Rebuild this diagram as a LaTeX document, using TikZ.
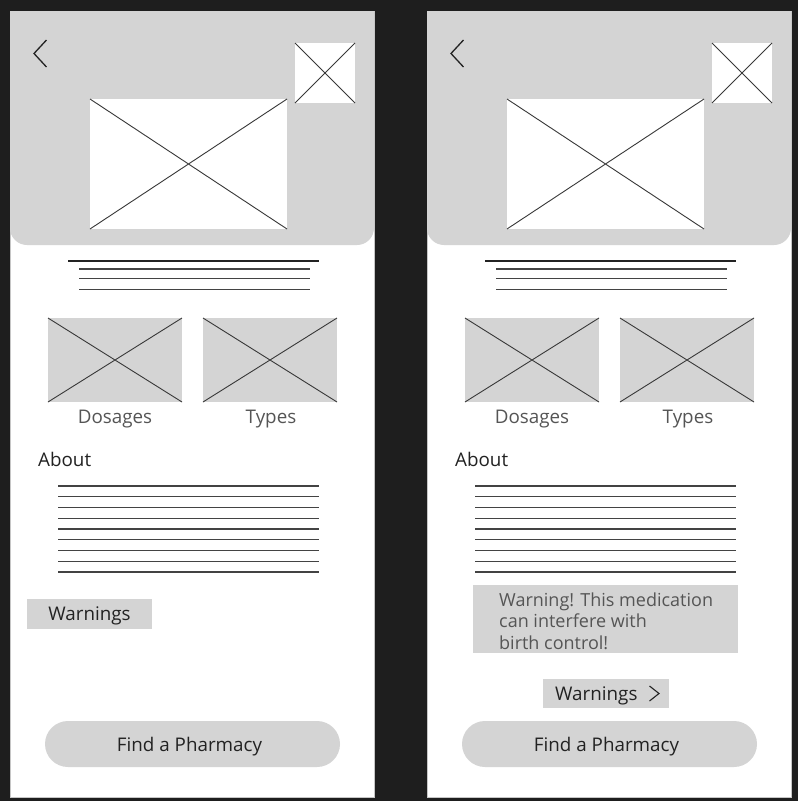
\documentclass[tikz,border=0pt]{standalone}
\usepackage{fontspec}
\setmainfont{Open Sans}
\usepackage{tikz}

\definecolor{board}{HTML}{1E1E1E}
\definecolor{panel}{HTML}{D4D4D4}
\definecolor{ink}{HTML}{222222}
\definecolor{soft}{HTML}{555555}

\begin{document}
\begin{tikzpicture}[x=1pt,y=-1pt,
		xline/.style={draw=ink!90,line width=0.9pt},
		txt/.style={inner sep=0pt,text=ink,font=\fontsize{18.8}{21.5}\selectfont},
		greytxt/.style={txt,text=soft}]
		\fill[board] (0,0) rectangle (798,801);
		\useasboundingbox (0,0) rectangle (798,801);

		% the two screens share everything down to the About text
		\foreach \i/\ox in {1/0,2/417} {
		  \begin{scope}[shift={(\ox,0)}]
		    \fill[white] (10,11) rectangle (374,797);
		    \draw[gray!45,line width=0.8pt] (10,11) rectangle (374,797);
		    \fill[panel] (10,11) rectangle (374,220);
		    \fill[panel,rounded corners=17pt] (10,190) rectangle (374,245);
		    \draw[ink,line width=1.3pt] (46.5,40) -- (34,53.5) -- (46.5,67);

		    \fill[white] (295,43) rectangle (355,103);
		    \draw[xline] (295,43) -- (355,103) (295,103) -- (355,43);
		    \fill[white] (90,99) rectangle (287,229);
		    \draw[xline] (90,99) -- (287,229) (90,229) -- (287,99);

		    \draw[ink,line width=2.3pt] (68,261) -- (319,261);
		    \foreach \y in {269,278.5,289.5}
		        \draw[ink!85,line width=1.1pt] (79,\y) -- (310,\y);

		    \foreach \x in {48,203} {
		        \fill[panel] (\x,318) rectangle ++(134,84);
		        \draw[xline] (\x,318) -- ++(134,84) (\x,402) -- ++(134,-84);
		    };
		    \node[greytxt,anchor=base] (dosages\i) at (115,423) {Dosages};
		    \node[greytxt,anchor=base] (types\i) at (271,423) {Types};

		    \node[txt,anchor=base west] (about\i) at (38,466) {About};
		    \foreach \k in {0,...,8}
		        \draw[ink!85,line width=1.1pt] (58,486+10.75*\k) -- (319,486+10.75*\k);

		    \fill[panel,rounded corners=23pt] (45,721) rectangle (340,767);
		    \node[txt,anchor=base] (pharmacy\i) at (189.5,751) {Find a Pharmacy};
		  \end{scope}
		};

		% left screen: warnings collapsed
		\fill[panel] (27,599) rectangle (152,629);
		\node[txt,anchor=base] (warn1) at (89.5,620) {Warnings};

		% right screen: warning opened
		\fill[panel] (473,585) rectangle (738,653);
		\node[greytxt,font=\fontsize{18}{21.5}\selectfont,anchor=north west,align=left]
		    (note) at (499,592.3) {Warning! This medication\\can interfere with\\birth control!};
		\fill[panel] (543,679) rectangle (669,708);
		\node[txt,anchor=base west] (warn2) at (555,700) {Warnings};
		\draw[ink,line width=1.1pt] (649.5,686) -- (659,693.5) -- (649.5,701);
\end{tikzpicture}
\end{document}
